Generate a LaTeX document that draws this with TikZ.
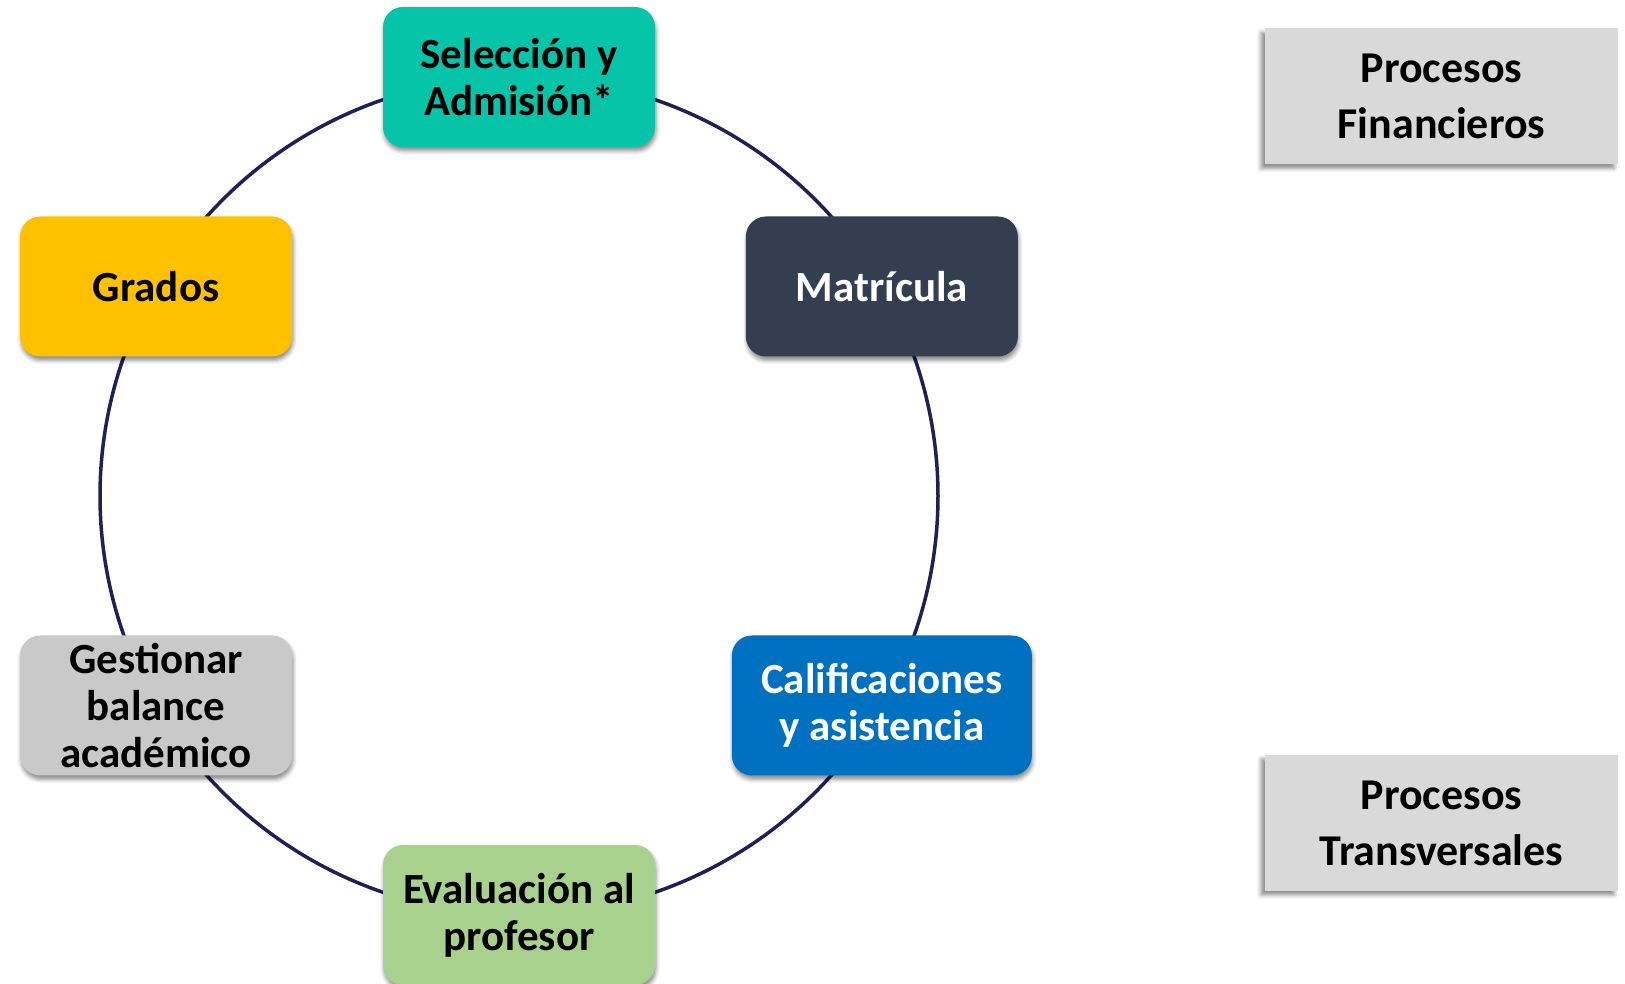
\documentclass[tikz,border=0pt]{standalone}
\usepackage{fontspec}
\setmainfont{Carlito}
\usetikzlibrary{shadows.blur}

\definecolor{ringline}{HTML}{201F58}
\definecolor{selcol}{HTML}{06C4A8}
\definecolor{matcol}{HTML}{333F50}
\definecolor{calcol}{HTML}{0070C0}
\definecolor{evacol}{HTML}{A9D18E}
\definecolor{gescol}{HTML}{C9C9C9}
\definecolor{gracol}{HTML}{FFC000}
\definecolor{procol}{HTML}{D9D9D9}

\begin{document}
\begin{tikzpicture}[
    x=1pt, y=1pt,
    stepbox/.style={rounded corners=20pt, minimum width=272pt, minimum height=140pt,
      align=center, font=\fontsize{43}{47}\selectfont\bfseries,
      blur shadow={shadow xshift=1pt, shadow yshift=-4pt, shadow blur radius=4pt, shadow opacity=45}},
    procbox/.style={fill=procol, minimum width=353pt, minimum height=136pt,
      align=center, font=\fontsize{44}{56}\selectfont\bfseries,
      blur shadow={shadow xshift=-4pt, shadow yshift=-4pt, shadow blur radius=4pt, shadow opacity=45}},
    ringarc/.style={draw=ringline, line width=3.5pt}
  ]
  \useasboundingbox (0, 0) rectangle (1625, 984);

  % Places on the ring
  \coordinate (c) at (519, 488);
  \foreach \a/\s in {90/sel, 30/mat, -30/cal, -90/eva, 210/ges, 150/gra} {
    \coordinate (p-\s) at ([shift={(\a:419)}]c);
  }

  % Ring, from place to place
  \draw [ringarc] (p-sel) arc [start angle=90, end angle=150, radius=419];
  \draw [ringarc] (p-gra) arc [start angle=150, end angle=210, radius=419];
  \draw [ringarc] (p-ges) arc [start angle=210, end angle=270, radius=419];
  \draw [ringarc] (p-eva) arc [start angle=270, end angle=330, radius=419];
  \draw [ringarc] (p-cal) arc [start angle=-30, end angle=30, radius=419];
  \draw [ringarc] (p-mat) arc [start angle=30, end angle=90, radius=419];

  % Process steps
  \node [stepbox, fill=selcol] (sel) at (p-sel) {Selección y\\Admisión*};
  \node [stepbox, fill=matcol, text=white] (mat) at (p-mat) {Matrícula};
  \node [stepbox, fill=calcol, text=white, minimum width=300pt] (cal) at (p-cal) {Calificaciones\\y asistencia};
  \node [stepbox, fill=evacol] (eva) at (p-eva) {Evaluación al\\profesor};
  \node [stepbox, fill=gescol] (ges) at (p-ges) {Gestionar\\balance\\académico};
  \node [stepbox, fill=gracol] (gra) at (p-gra) {Grados};

  % Side processes
  \node [procbox] (fin) at (1441.5, 887.5) {Procesos\\Financieros};
  \node [procbox] (tra) at (1441.5, 161) {Procesos\\Transversales};
\end{tikzpicture}
\end{document}
